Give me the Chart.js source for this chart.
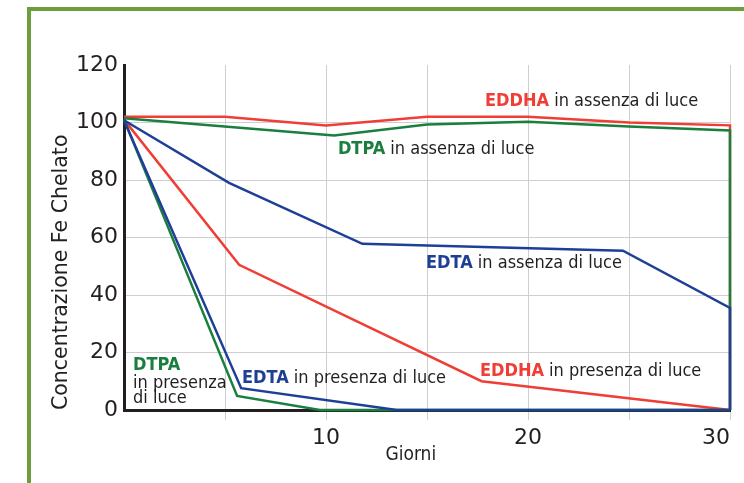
<!DOCTYPE html>
<html>
<head>
<meta charset="utf-8">
<script src="https://cdn.jsdelivr.net/npm/chart.js@4.4.1/dist/chart.umd.min.js"></script>
<style>
  html, body { margin: 0; padding: 0; background: #fff; }
  #wrap { position: relative; width: 744px; height: 483px; }
  #frame {
    position: absolute; left: 27px; top: 7px; right: -10px; bottom: -10px;
    border-left: 4px solid #6c9f3b; border-top: 4px solid #6c9f3b;
    pointer-events: none;
  }
  canvas { position: absolute; left: 0; top: 0; }
</style>
</head>
<body>
<div id="wrap">
  <canvas id="chart" width="744" height="483"></canvas>
  <div id="frame"></div>
</div>
<script>
// giorni / concentrazione per ogni serie
const edtaLuceDays = [0, 5.8, 13.5, 30];
const edtaLuce = [100.8, 7.6, 0, 0];
const edtaBuioDays = [0, 5.2, 11.8, 24.7, 30, 30];
const edtaBuio = [100.8, 79, 57.8, 55.4, 35.5, 0];
const dtpaLuceDays = [0, 5.6, 9.7, 30];
const dtpaLuce = [101, 4.9, 0, 0];
const dtpaBuioDays = [0, 10.4, 15, 20, 25, 30, 30];
const dtpaBuio = [101.5, 95.5, 99.3, 100.3, 98.6, 97.2, 0];
const eddhaLuceDays = [0, 5.7, 17.7, 30];
const eddhaLuce = [101, 50.5, 10, 0];
const eddhaBuioDays = [0, 5, 10, 15, 20, 25, 30, 30];
const eddhaBuio = [102, 102, 99, 102, 102, 100, 99, 0];

const xTickLabels = [10, 20, 30];

const RED = "#ee3e36";
const GREEN = "#1a7f3e";
const BLUE = "#1e3f96";
const INK = "#231f20";

const pts = (days, vals) => days.map((d, i) => ({ x: d, y: vals[i] }));

// labels drawn on the chart: [coloured part, dark part], anchor in data units
const notes = [
  { parts: ["EDDHA", " in assenza di luce"], color: RED, at: [17.87, 107.2] },
  { parts: ["DTPA", " in assenza di luce"], color: GREEN, at: [10.59, 90.5] },
  { parts: ["EDTA", " in assenza di luce"], color: BLUE, at: [14.95, 51] },
  { parts: ["EDDHA", " in presenza di luce"], color: RED, at: [17.62, 13.5] },
  { parts: ["EDTA", " in presenza di luce"], color: BLUE, at: [5.84, 11.1] },
];

const FONT = '"DejaVu Sans Condensed", "Liberation Sans Narrow", sans-serif';

const notesPlugin = {
  id: "notes",
  afterDatasetsDraw(chart) {
    const { ctx, scales: { x, y } } = chart;
    ctx.save();
    ctx.textBaseline = "middle";
    ctx.textAlign = "left";
    notes.forEach(n => {
      let px = x.getPixelForValue(n.at[0]);
      const py = y.getPixelForValue(n.at[1]);
      ctx.font = "bold 18px " + FONT;
      ctx.fillStyle = n.color;
      ctx.fillText(n.parts[0], px, py);
      px += ctx.measureText(n.parts[0]).width;
      ctx.font = "18px " + FONT;
      ctx.fillStyle = INK;
      ctx.fillText(n.parts[1], px, py);
    });

    // DTPA in presenza di luce, on three lines
    const lx = x.getPixelForValue(0.45);
    const ly = y.getPixelForValue(15.6);
    ctx.font = "bold 18px " + FONT;
    ctx.fillStyle = GREEN;
    ctx.fillText("DTPA", lx, ly);
    ctx.font = "18px " + FONT;
    ctx.fillStyle = INK;
    ctx.fillText("in presenza", lx, ly + 18);
    ctx.fillText("di luce", lx, ly + 33);

    // x title
    ctx.textAlign = "center";
    ctx.font = "19px " + FONT;
    ctx.fillText("Giorni", x.getPixelForValue(14.2), 455);
    ctx.restore();
  }
};

const line = (data, color) => ({
  data, borderColor: color, borderWidth: 2.5, pointRadius: 0,
  tension: 0, fill: false, clip: 6
});

new Chart(document.getElementById("chart"), {
  type: "line",
  data: {
    datasets: [
      line(pts(edtaLuceDays, edtaLuce), BLUE),
      line(pts(edtaBuioDays, edtaBuio), BLUE),
      line(pts(dtpaLuceDays, dtpaLuce), GREEN),
      line(pts(dtpaBuioDays, dtpaBuio), GREEN),
      line(pts(eddhaLuceDays, eddhaLuce), RED),
      line(pts(eddhaBuioDays, eddhaBuio), RED),
    ],
  },
  options: {
    responsive: false,
    animation: false,
    layout: { padding: { top: 65, right: 14, left: 0, bottom: 0 } },
    plugins: { legend: { display: false }, tooltip: { enabled: false } },
    scales: {
      x: {
        type: "linear",
        min: 0,
        max: 30,
        afterFit: s => { s.height = 73; },
        border: { color: INK, width: 3 },
        grid: {
          color: c => (c.tick.value === 0 ? "rgba(0,0,0,0)" : "#cfcfcf"),
          tickLength: 10,
        },
        ticks: {
          stepSize: 5,
          align: "inner",
          padding: 5,
          color: INK,
          font: { family: "DejaVu Sans", size: 22 },
          callback: v => (xTickLabels.includes(v) ? String(v) : ""),
        },
      },
      y: {
        min: 0,
        max: 120,
        afterFit: s => { s.width = 124; },
        border: { color: INK, width: 3 },
        grid: {
          color: c => (c.tick.value === 0 || c.tick.value === 120 ? "rgba(0,0,0,0)" : "#cfcfcf"),
          drawTicks: false,
        },
        ticks: {
          stepSize: 20,
          padding: 6,
          color: INK,
          font: { family: "DejaVu Sans", size: 22 },
        },
        title: {
          display: true,
          text: "Concentrazione Fe Chelato",
          align: "start",
          color: INK,
          font: { family: "DejaVu Sans", size: 20.5 },
          padding: { top: 49, bottom: 0 },
        },
      },
    },
  },
  plugins: [notesPlugin],
});
</script>
</body>
</html>
